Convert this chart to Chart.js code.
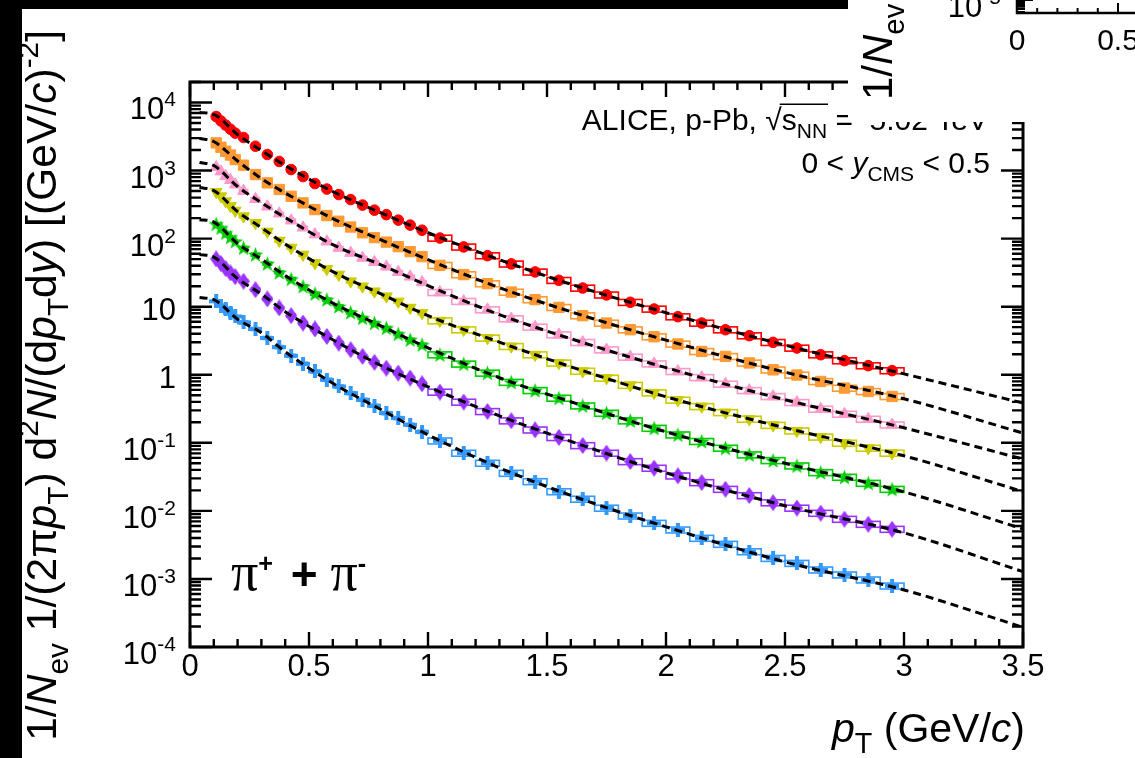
<!DOCTYPE html>
<html>
<head>
<meta charset="utf-8">
<title>pi+ + pi- spectra, p-Pb</title>
<script src="https://cdn.jsdelivr.net/npm/chart.js@4.4.1/dist/chart.umd.min.js"></script>
<style>
  html, body { margin: 0; padding: 0; width: 1135px; height: 758px; overflow: hidden; background: #fff; }
  canvas { position: absolute; }
  #spectra { left: 0; top: 0; }
  #inset { left: 848px; top: -178px; }
  .edge { position: absolute; background: #000; }
</style>
</head>
<body>
<canvas id="spectra" width="1135" height="758"></canvas>
<canvas id="inset" width="876" height="300"></canvas>
<div class="edge" style="left:0; top:0; width:848px; height:9px;"></div>
<div class="edge" style="left:0; top:0; width:22px; height:758px;"></div>
<script>
const SANS = '"Liberation Sans", Arial, Helvetica, sans-serif';
const SERIF = '"Liberation Serif", "Times New Roman", serif';

// pT bin edges (GeV/c)
const ptEdges = [0.10, 0.12, 0.14, 0.16, 0.18, 0.20, 0.25, 0.30, 0.35, 0.40, 0.45, 0.50, 0.55, 0.60,
  0.65, 0.70, 0.75, 0.80, 0.85, 0.90, 0.95, 1.0, 1.1, 1.2, 1.3, 1.4, 1.5, 1.6, 1.7, 1.8, 1.9, 2.0,
  2.1, 2.2, 2.3, 2.4, 2.5, 2.6, 2.7, 2.8, 2.9, 3.0];

// scaled pi+ + pi- yields, one array per multiplicity class
const pts0_5 = [6220, 5350, 4650, 4050, 3550, 3060, 2280, 1720, 1360, 1035, 816, 644, 535, 444, 375,
  311, 262, 225, 187, 158, 133, 102, 75.5, 56.2, 42.5, 32.4, 24.4, 18.8, 14.9, 11.6, 9.25, 7.13, 5.75,
  4.59, 3.75, 2.99, 2.47, 1.97, 1.61, 1.36, 1.15];
const pts5_10 = [2550, 2200, 1920, 1690, 1450, 1200, 873, 659, 526, 419, 335, 267, 218, 180, 148,
  122, 103.5, 88.9, 76.3, 64.4, 54.4, 40.5, 29.6, 21.8, 16.4, 12.7, 9.77, 7.38, 5.75, 4.59, 3.62, 2.83,
  2.20, 1.86, 1.49, 1.18, 0.99, 0.797, 0.637, 0.568, 0.480];
const pts10_20 = [1120, 967, 830, 725, 622, 500, 381, 296, 233, 184, 145, 115, 90.4, 73.0, 61.6,
  52.0, 45.1, 38.7, 32.2, 27.6, 22.8, 16.2, 12.0, 9.04, 6.66, 5.03, 3.87, 2.99, 2.33, 1.82, 1.45, 1.12,
  0.912, 0.730, 0.588, 0.480, 0.392, 0.313, 0.264, 0.223, 0.184];
const pts20_40 = [486, 419, 354, 301, 258, 213, 170, 127, 93.5, 73.8, 58.2, 43.9, 35.8, 29.6, 23.6,
  19.9, 16.8, 14.2, 11.9, 9.67, 8.08, 6.22, 4.59, 3.47, 2.61, 1.97, 1.49, 1.13, 0.894, 0.701, 0.544,
  0.425, 0.342, 0.279, 0.223, 0.181, 0.150, 0.122, 0.099, 0.0836, 0.0706];
const pts40_60 = [164, 144, 121, 105, 91.3, 73.0, 58.2, 42.9, 31.9, 25.5, 19.9, 15.5, 12.7, 10.1,
  8.24, 6.82, 5.75, 4.86, 3.97, 3.27, 2.76, 1.97, 1.44, 1.06, 0.776, 0.588, 0.454, 0.350, 0.273, 0.211,
  0.164, 0.131, 0.105, 0.0836, 0.0667, 0.0550, 0.0459, 0.0366, 0.0313, 0.0255, 0.0208];
const pts60_80 = [50.3, 42.9, 36.2, 31.3, 27.6, 23.6, 17.8, 13.0, 9.57, 7.38, 5.75, 4.70, 3.66,
  2.92, 2.33, 1.86, 1.52, 1.25, 1.06, 0.894, 0.737, 0.557, 0.397, 0.289, 0.211, 0.155, 0.120, 0.0912,
  0.0706, 0.0531, 0.0425, 0.0327, 0.0261, 0.0208, 0.0168, 0.0132, 0.0110, 0.00925, 0.00755, 0.00637,
  0.00538];
const pts80_100 = [12.0, 10.4, 9.25, 8.16, 7.20, 5.88, 4.70, 3.47, 2.55, 1.90, 1.45, 1.12, 0.844,
  0.673, 0.538, 0.429, 0.350, 0.273, 0.231, 0.184, 0.145, 0.107, 0.0706, 0.0503, 0.0358, 0.0270,
  0.0192, 0.0149, 0.0110, 0.00844, 0.00659, 0.00526, 0.00397, 0.00324, 0.00252, 0.00201, 0.00170,
  0.00136, 0.00115, 0.00097, 0.00079];

// relative systematic uncertainty for the boxes: below / above 1 GeV/c
const sysLow = 0.05;
const sysHigh = 0.1;

// fit functions, sampled at fitPt
const fitPt = [0.04, 0.1, 0.2, 0.3, 0.4, 0.6, 0.8, 1.0, 1.3, 1.6, 2.0, 2.5, 3.0, 3.5];
const fit0_5 = [7130, 6670, 3380, 1970, 1185, 491, 241, 122, 49.1, 21.4, 8.16, 2.72, 1.03, 0.384];
const fit5_10 = [2960, 2670, 1380, 763, 467, 197, 96.7, 49.1, 19.0, 8.44, 3.22, 1.09, 0.444, 0.139];
const fit10_20 = [1310, 1185, 582, 338, 204, 81.6, 41.5, 20.4, 7.63, 3.38, 1.27, 0.429, 0.166, 0.0576];
const fit20_40 = [562, 508, 249, 145, 83.0, 32.7, 15.5, 7.38, 3.01, 1.31, 0.475, 0.166, 0.0644, 0.0192];
const fit40_60 = [190, 175, 84.4, 50.0, 28.6, 11.3, 5.26, 2.49, 0.903, 0.401, 0.145, 0.050, 0.0190, 0.00543];
const fit60_80 = [58.2, 53.5, 25.8, 15.3, 8.44, 3.27, 1.38, 0.666, 0.249, 0.105, 0.0362, 0.0119, 0.00475, 0.00128];
const fit80_100 = [13.6, 12.7, 6.55, 4.15, 2.18, 0.750, 0.311, 0.131, 0.0429, 0.0169, 0.00582, 0.00178, 0.000689, 0.000195];

// axis ticks
const xMajor = [0, 0.5, 1, 1.5, 2, 2.5, 3, 3.5];
const yExp = [-4, -3, -2, -1, 0, 1, 2, 3, 4];

const ptCenters = ptEdges.slice(0, -1).map((lo, i) => (lo + ptEdges[i + 1]) / 2);


// ---- marker shapes that chart.js doesn't have filled ----
function starMarker(color) {
  const c = document.createElement('canvas');
  c.width = c.height = 17;
  const g = c.getContext('2d');
  g.fillStyle = color;
  g.beginPath();
  for (let k = 0; k < 10; k++) {
    const r = k % 2 ? 3.4 : 8.2;
    const a = -Math.PI / 2 + k * Math.PI / 5;
    g.lineTo(8.5 + r * Math.cos(a), 9.2 + r * Math.sin(a));
  }
  g.closePath();
  g.fill();
  return c;
}

function diamondMarker(color) {
  const c = document.createElement('canvas');
  c.width = 12; c.height = 17;
  const g = c.getContext('2d');
  g.fillStyle = color;
  g.beginPath();
  g.moveTo(6, 0); g.lineTo(12, 8.5); g.lineTo(6, 17); g.lineTo(0, 8.5);
  g.closePath();
  g.fill();
  return c;
}

function crossMarker(color) {
  const c = document.createElement('canvas');
  c.width = c.height = 14;
  const g = c.getContext('2d');
  g.fillStyle = color;
  g.fillRect(5, 0, 4, 14);
  g.fillRect(0, 5, 14, 4);
  return c;
}


// ---- text with sub/superscripts and italics ----
function richText(ctx, parts, x, y, size, align) {
  let total = 0;
  const fonts = parts.map(p => {
    const base = p.z || size;
    const sz = p.s ? base * 0.7 : base;
    const f = (p.i ? 'italic ' : '') + (p.b ? 'bold ' : '') + sz + 'px ' + (p.f || SANS);
    ctx.font = f;
    const w = ctx.measureText(p.t).width;
    total += w;
    return { f: f, w: w, base: base };
  });
  let cx = align === 'right' ? x - total : x;
  let barFrom = null, barTo = null;
  ctx.textAlign = 'left';
  ctx.textBaseline = 'alphabetic';
  parts.forEach((p, k) => {
    ctx.font = fonts[k].f;
    let dy = 0;
    if (p.s === 'sub') dy = fonts[k].base * 0.28;
    if (p.s === 'sup') dy = -fonts[k].base * (p.up || 0.42);
    ctx.fillText(p.t, cx, y + dy);
    if (p.bar) {
      if (barFrom === null) barFrom = cx;
      barTo = cx + fonts[k].w;
    }
    cx += fonts[k].w;
  });
  if (barFrom !== null) {
    ctx.beginPath();
    ctx.lineWidth = 1.5;
    ctx.moveTo(barFrom - 2, y - size * 0.86);
    ctx.lineTo(barTo + 1, y - size * 0.86);
    ctx.stroke();
  }
}

const yTitle = [
  { t: '1/' }, { t: 'N', i: 1 }, { t: 'ev', s: 'sub' }, { t: ' 1/(2\u03c0' }, { t: 'p', i: 1 },
  { t: 'T', s: 'sub' }, { t: ') d' }, { t: '2', s: 'sup' }, { t: 'N', i: 1 }, { t: '/(d' },
  { t: 'p', i: 1 }, { t: 'T', s: 'sub' }, { t: 'd' }, { t: 'y', i: 1 }, { t: ') [(GeV/' },
  { t: 'c', i: 1 }, { t: ')' }, { t: '-2', s: 'sup' }, { t: ']' }
];

function logLabel(ctx, e, xr, py) {
  ctx.fillStyle = '#000';
  ctx.textAlign = 'right';
  if (e === 0 || e === 1) {
    ctx.font = '31px ' + SANS;
    ctx.fillText(e === 0 ? '1' : '10', xr, py + 13);
    return;
  }
  const sup = String(e);
  ctx.font = '21px ' + SANS;
  const w = ctx.measureText(sup).width;
  ctx.fillText(sup, xr, py + 4);
  ctx.font = '31px ' + SANS;
  ctx.fillText('10', xr - w, py + 17);
}


// ---- frame, inward ticks, syst. boxes and labels ----
const rootFrame = {
  id: 'rootFrame',
  beforeDatasetsDraw(chart) {
    const ctx = chart.ctx, xs = chart.scales.x, ys = chart.scales.y, a = chart.chartArea;
    ctx.save();
    ctx.beginPath();
    ctx.rect(a.left, a.top, a.right - a.left, a.bottom - a.top);
    ctx.clip();
    ctx.lineWidth = 1.6;
    chart.data.datasets.forEach(ds => {
      if (!ds.sys) return;
      ctx.strokeStyle = ds.pointBackgroundColor;
      ds.data.forEach((p, j) => {
        const lo = ptEdges[j], hi = ptEdges[j + 1];
        const narrow = hi - lo < 0.09;
        const rel = narrow ? sysLow : sysHigh;
        const half = narrow ? (hi - lo) * 0.35 : (hi - lo) / 2;
        const x0 = xs.getPixelForValue(p.x - half);
        const x1 = xs.getPixelForValue(p.x + half);
        const y0 = ys.getPixelForValue(p.y * (1 + rel));
        const y1 = ys.getPixelForValue(p.y * (1 - rel));
        ctx.strokeRect(x0, y0, x1 - x0, y1 - y0);
      });
    });
    ctx.restore();
  },
  afterDraw(chart) {
    const ctx = chart.ctx, xs = chart.scales.x, ys = chart.scales.y, a = chart.chartArea;
    ctx.save();
    ctx.strokeStyle = '#000';
    ctx.fillStyle = '#000';

    // ticks
    ctx.lineWidth = 2.4;
    ctx.beginPath();
    for (let k = 0; k <= 35; k++) {
      const px = xs.getPixelForValue(k / 10);
      const len = k % 5 === 0 ? 15 : 8;
      ctx.moveTo(px, a.bottom); ctx.lineTo(px, a.bottom - len);
      ctx.moveTo(px, a.top); ctx.lineTo(px, a.top + len);
    }
    yExp.forEach(e => {
      for (let m = 1; m <= 9; m++) {
        const v = m * Math.pow(10, e);
        if (v > ys.max) break;
        const py = ys.getPixelForValue(v);
        const len = m === 1 ? 22 : 11;
        ctx.moveTo(a.left, py); ctx.lineTo(a.left + len, py);
        ctx.moveTo(a.right, py); ctx.lineTo(a.right - len, py);
      }
    });
    ctx.stroke();

    ctx.lineWidth = 3;
    ctx.strokeRect(a.left, a.top, a.right - a.left, a.bottom - a.top);

    // tick labels
    ctx.font = '31px ' + SANS;
    ctx.textAlign = 'center';
    xMajor.forEach(v => ctx.fillText(String(v), xs.getPixelForValue(v), a.bottom + 29));
    yExp.forEach(e => logLabel(ctx, e, a.left - 14, ys.getPixelForValue(Math.pow(10, e))));

    // axis titles
    richText(ctx, [{ t: 'p', i: 1 }, { t: 'T', s: 'sub' }, { t: ' (GeV/' }, { t: 'c', i: 1 }, { t: ')' }],
      a.right + 2, a.bottom + 95, 41, 'right');
    ctx.save();
    ctx.translate(56, 30);
    ctx.rotate(-Math.PI / 2);
    richText(ctx, yTitle, 0, 0, 42.6, 'right');
    ctx.restore();

    // labels inside the frame
    richText(ctx, [{ t: 'ALICE, p-Pb, ' }, { t: '\u221a' }, { t: 's', bar: 1 }, { t: 'NN', s: 'sub', bar: 1 },
      { t: ' =  5.02 TeV' }], a.right - 35, a.top + 48, 30, 'right');
    richText(ctx, [{ t: '0 < ' }, { t: 'y', i: 1 }, { t: 'CMS', s: 'sub' }, { t: ' < 0.5' }],
      a.right - 33, a.top + 91, 30, 'right');
    richText(ctx, [{ t: '\u03c0', f: SERIF, z: 54 }, { t: '+', s: 'sup', b: 1, z: 36, up: 0.5 }, { t: ' ', z: 64 },
      { t: '+', b: 1, z: 46 }, { t: ' ', z: 46 }, { t: '\u03c0', f: SERIF, z: 54 }, { t: '-', s: 'sup', b: 1, z: 36, up: 0.5 }],
      a.left + 41, a.bottom - 57, 54, 'left');
    ctx.restore();
  }
};


const classes = [
  { pts: pts0_5, fit: fit0_5, color: '#ff0000', style: 'circle', radius: 5.3 },
  { pts: pts5_10, fit: fit5_10, color: '#ff9933', style: 'rect', radius: 7.3 },
  { pts: pts10_20, fit: fit10_20, color: '#ff99cc', style: 'triangle', radius: 6.8 },
  { pts: pts20_40, fit: fit20_40, color: '#cccc00', style: 'triangle', radius: 6.8, rotation: 180 },
  { pts: pts40_60, fit: fit40_60, color: '#00cc00', style: starMarker('#00cc00'), radius: 6 },
  { pts: pts60_80, fit: fit60_80, color: '#9933ff', style: diamondMarker('#9933ff'), radius: 6 },
  { pts: pts80_100, fit: fit80_100, color: '#3399ff', style: crossMarker('#3399ff'), radius: 6 }
];

const datasets = [];
classes.forEach(c => {
  datasets.push({
    data: c.pts.map((v, j) => ({ x: ptCenters[j], y: v })),
    sys: true,
    showLine: false,
    pointStyle: c.style,
    pointRadius: c.radius,
    pointRotation: c.rotation || 0,
    pointBackgroundColor: c.color,
    pointBorderColor: c.color,
    pointBorderWidth: 1,
    order: 1
  });
  datasets.push({
    data: c.fit.map((v, j) => ({ x: fitPt[j], y: v })),
    borderColor: '#000',
    borderWidth: 3,
    borderDash: [8, 5],
    pointRadius: 0,
    fill: false,
    cubicInterpolationMode: 'monotone',
    order: 0
  });
});

new Chart(document.getElementById('spectra'), {
  type: 'line',
  data: { datasets: datasets },
  options: {
    responsive: false,
    animation: false,
    devicePixelRatio: 1,
    layout: { padding: { top: 82, right: 112, left: 0, bottom: 0 } },
    plugins: { legend: { display: false }, tooltip: { enabled: false } },
    scales: {
      x: {
        type: 'linear', min: 0, max: 3.5,
        ticks: { display: false }, grid: { display: false }, border: { display: false },
        afterFit: s => { s.height = 111; }
      },
      y: {
        type: 'logarithmic', min: 1e-4, max: 2e4,
        ticks: { display: false }, grid: { display: false }, border: { display: false },
        afterFit: s => { s.width = 190; }
      }
    }
  },
  plugins: [rootFrame]
});


// ---- second pad, only its lower left corner shows ----
const insetFrame = {
  id: 'insetFrame',
  beforeDraw(chart) {
    const ctx = chart.ctx;
    ctx.save();
    ctx.fillStyle = '#fff';
    ctx.fillRect(0, 0, chart.width, chart.height);
    ctx.restore();
  },
  afterDraw(chart) {
    const ctx = chart.ctx, xs = chart.scales.x, ys = chart.scales.y, a = chart.chartArea;
    ctx.save();
    ctx.strokeStyle = '#000';
    ctx.fillStyle = '#000';
    ctx.lineWidth = 2;
    ctx.beginPath();
    for (let k = 0; k <= 35; k++) {
      const px = xs.getPixelForValue(k / 10);
      const len = k % 5 === 0 ? 10 : 5;
      ctx.moveTo(px, a.bottom); ctx.lineTo(px, a.bottom - len);
    }
    for (let e = -6; e <= 0; e++) {
      for (let m = 1; m <= 9; m++) {
        const v = m * Math.pow(10, e);
        if (v < ys.min || v > ys.max) continue;
        const py = ys.getPixelForValue(v);
        ctx.moveTo(a.left, py); ctx.lineTo(a.left + (m === 1 ? 16 : 8), py);
      }
    }
    ctx.stroke();
    ctx.lineWidth = 2.5;
    ctx.beginPath();
    ctx.moveTo(a.left, a.top); ctx.lineTo(a.left, a.bottom); ctx.lineTo(a.right, a.bottom);
    ctx.stroke();

    ctx.font = '30px ' + SANS;
    ctx.textAlign = 'center';
    xMajor.forEach(v => ctx.fillText(String(v), xs.getPixelForValue(v), a.bottom + 37));
    for (let e = -5; e <= 0; e++) logLabel(ctx, e, a.left - 16, ys.getPixelForValue(Math.pow(10, e)));

    ctx.translate(44, 278);
    ctx.rotate(-Math.PI / 2);
    richText(ctx, yTitle, 0, 0, 42, 'left');
    ctx.restore();
  }
};

new Chart(document.getElementById('inset'), {
  type: 'line',
  data: { datasets: [] },
  options: {
    responsive: false,
    animation: false,
    devicePixelRatio: 1,
    layout: { padding: { top: 10, right: 0, left: 0, bottom: 0 } },
    plugins: { legend: { display: false }, tooltip: { enabled: false } },
    scales: {
      x: {
        type: 'linear', min: 0, max: 3.5,
        ticks: { display: false }, grid: { display: false }, border: { display: false },
        afterFit: s => { s.height = 109; }
      },
      y: {
        type: 'logarithmic', min: 3.7e-6, max: 4,
        ticks: { display: false }, grid: { display: false }, border: { display: false },
        afterFit: s => { s.width = 169; }
      }
    }
  },
  plugins: [insetFrame]
});
</script>
</body>
</html>
